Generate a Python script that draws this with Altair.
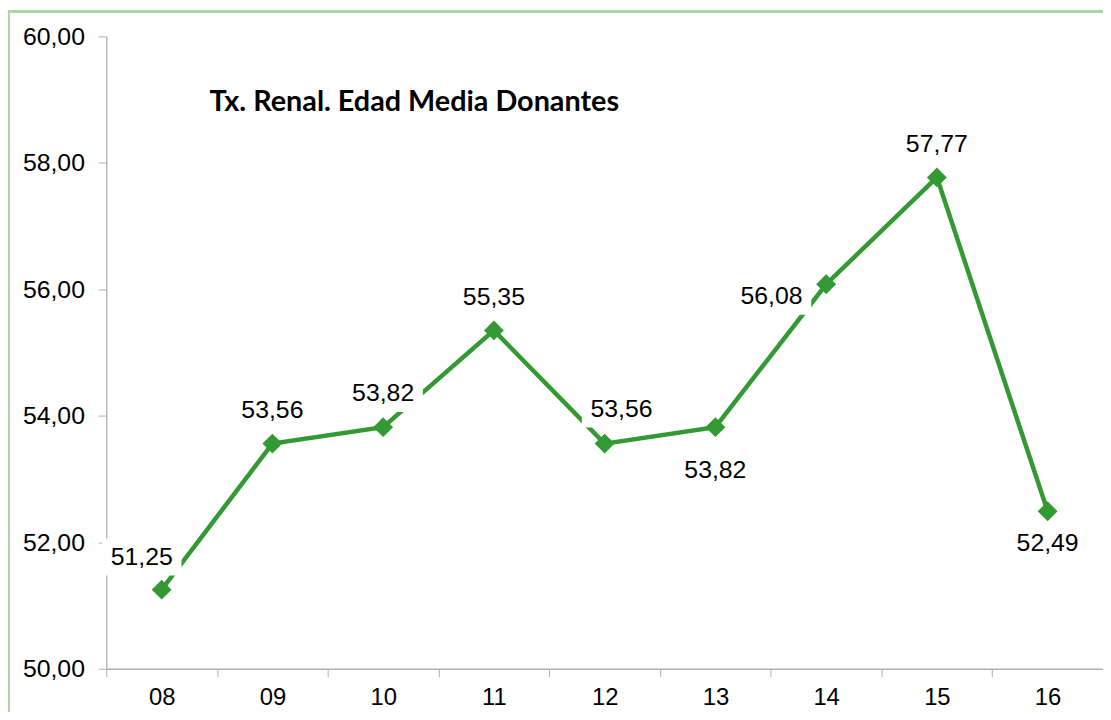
import altair as alt
import pandas as pd

years = ["08", "09", "10", "11", "12", "13", "14", "15", "16"]
values = [51.25, 53.56, 53.82, 55.35, 53.56, 53.82, 56.08, 57.77, 52.49]
y_ticks = [50, 52, 54, 56, 58, 60]
title_text = "Tx. Renal. Edad Media Donantes"

df = pd.DataFrame({"year": years, "value": values})
df["label"] = [f"{v:.2f}".replace(".", ",") for v in values]

GREEN = "#339933"
FONT = "Liberation Sans"
W, H = 1004, 637
PAD_L, PAD_T, PAD_B = 99, 26, 41

# label placement (style): offset of each label from its point, in px
default_off = (0, -34)
label_offsets = {"08": (-20, -33), "12": (17, -35), "13": (0, 43),
                 "14": (-55, 12), "16": (0, 32)}

x_enc = alt.X("year:N", sort=years, title=None,
              scale=alt.Scale(paddingInner=0, paddingOuter=0),
              axis=alt.Axis(labelAngle=0, labelFont=FONT, labelFontSize=24,
                            labelColor="#000000", domainColor="#b0b0b0",
                            tickColor="#b0b0b0", tickSize=8, tickBand="extent",
                            labelPadding=9, domainWidth=1.3))
y_enc = alt.Y("value:Q", title=None,
              scale=alt.Scale(domain=[50, 60], nice=False, zero=False),
              axis=alt.Axis(values=y_ticks, grid=False, labelFont=FONT,
                            labelFontSize=25, labelColor="#000000",
                            domainColor="#b0b0b0", tickColor="#b0b0b0",
                            tickSize=8, labelPadding=14, domainWidth=1.3,
                            labelExpr="replace(format(datum.value, '.2f'), '.', ',')"))

base = alt.Chart(df)

frame = base.mark_rect(fill=None, stroke="#a9d8a1", strokeWidth=2).encode(
    x=alt.value(-PAD_L + 1), x2=alt.value(W + 200),
    y=alt.value(-PAD_T + 1), y2=alt.value(H + 200)
)

line = base.mark_line(color=GREEN, strokeWidth=4.5).encode(x=x_enc, y=y_enc)
pts = base.mark_point(shape="diamond", filled=True, color=GREEN, size=400,
                      opacity=1).encode(x=x_enc, y=y_enc)

groups = {}
for yr in years:
    off = label_offsets.get(yr, default_off)
    groups.setdefault(off, []).append(yr)

box_shape = "M-1,-0.47L1,-0.47L1,0.47L-1,0.47Z"
label_layers = []
for (dx, dy), yrs in groups.items():
    sub = base.transform_filter(alt.FieldOneOfPredicate(field="year", oneOf=yrs))
    label_layers.append(sub.mark_point(shape=box_shape, filled=True, color="white",
                                       opacity=1, size=80 * 80, xOffset=dx,
                                       yOffset=dy).encode(x=x_enc, y=y_enc))
    label_layers.append(sub.mark_text(font=FONT, fontSize=25, color="#000000",
                                      dx=dx, dy=dy, baseline="middle",
                                      align="center").encode(
        x=x_enc, y=y_enc, text="label:N"))

title = alt.Chart(pd.DataFrame({"t": [title_text]})).mark_text(
    font="Lato", fontWeight="bold", fontSize=29, color="#000000",
    align="left", baseline="middle").encode(
    x=alt.value(104), y=alt.value(66), text="t:N")

chart = alt.layer(frame, line, *label_layers, pts, title).properties(
    width=W, height=H,
    autosize=alt.AutoSizeParams(type="none"),
    padding={"left": PAD_L, "top": PAD_T, "right": 0, "bottom": PAD_B},
    background="#ffffff",
).configure_view(stroke=None)

chart.save("out.html", embed_options={"renderer": "svg", "actions": False})
